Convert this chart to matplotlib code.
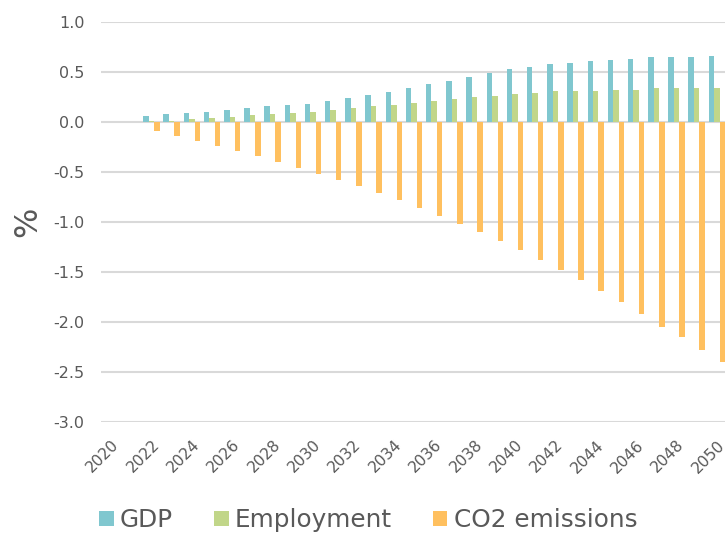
import matplotlib
matplotlib.use("Agg")
import matplotlib.pyplot as plt
import numpy as np
from matplotlib.patches import Patch

years = list(range(2020, 2051))

gdp = [0.00, 0.00, 0.06, 0.08, 0.09, 0.10, 0.12, 0.14, 0.16, 0.17,
       0.18, 0.21, 0.24, 0.27, 0.30, 0.34, 0.38, 0.41, 0.45, 0.49,
       0.53, 0.55, 0.58, 0.59, 0.61, 0.62, 0.63, 0.65, 0.65, 0.65, 0.66]

employment = [0.00, 0.00, 0.005, 0.01, 0.03, 0.04, 0.05, 0.07, 0.08, 0.09,
              0.10, 0.12, 0.14, 0.16, 0.17, 0.19, 0.21, 0.23, 0.25, 0.26,
              0.28, 0.29, 0.31, 0.31, 0.31, 0.32, 0.32, 0.34, 0.34, 0.34, 0.34]

co2 = [0.00, 0.00, -0.09, -0.14, -0.19, -0.24, -0.29, -0.34, -0.40, -0.46,
       -0.52, -0.58, -0.64, -0.71, -0.78, -0.86, -0.94, -1.02, -1.10, -1.19,
       -1.28, -1.38, -1.48, -1.58, -1.69, -1.80, -1.92, -2.05, -2.15, -2.28, -2.40]

series_names = ["GDP", "Employment", "CO2 emissions"]
series_colors = ["#80c7cf", "#c1d689", "#ffc05f"]
y_ticks = [1.0, 0.5, 0.0, -0.5, -1.0, -1.5, -2.0, -2.5, -3.0]
x_tick_years = list(range(2020, 2051, 2))

text_color = "#595959"
grid_color = "#d9d9d9"

plt.rcParams["font.family"] = ["DejaVu Sans"]

W, H = 725, 534
fig = plt.figure(figsize=(W / 100, H / 100), dpi=100)
ax = fig.add_axes([101 / W, (H - 422) / H, 626 / W, 400 / H])

x = np.arange(len(years))
bar_w = 0.272
for k, (vals, color) in enumerate(zip([gdp, employment, co2], series_colors)):
    ax.bar(x + (k - 1) * bar_w, vals, width=bar_w, color=color,
           edgecolor="none", zorder=3)

ax.set_xlim(-0.5, len(years) - 0.5)
ax.set_ylim(-3.0, 1.0)

ax.set_yticks(y_ticks)
ax.set_yticklabels([f"{v:.1f}" for v in y_ticks],
                   fontsize=11.5, color=text_color)
ax.tick_params(axis="y", length=0, pad=12)

ax.set_xticks([years.index(y) for y in x_tick_years])
ax.set_xticklabels([str(y) for y in x_tick_years], fontsize=11.2,
                   color=text_color, rotation=45, ha="right", va="top",
                   rotation_mode="anchor")
ax.tick_params(axis="x", length=0, pad=11)

ax.yaxis.grid(True, color=grid_color, linewidth=1.5, zorder=0)
ax.set_axisbelow(True)
for s in ax.spines.values():
    s.set_visible(False)

fig.text(28 / W, 1 - 222 / H, "%", rotation=90, ha="center", va="center",
         fontsize=23, color=text_color)

handles = [Patch(facecolor=c, edgecolor="none") for c in series_colors]
fig.legend(handles, series_names, loc="center", ncol=3,
           bbox_to_anchor=(368 / W, 1 - 520 / H), frameon=False,
           fontsize=17.8, labelcolor=text_color, handlelength=0.6,
           handleheight=0.58, handletextpad=0.25, columnspacing=1.65,
           borderaxespad=0, borderpad=0)

fig.savefig("out.png", dpi=100)
